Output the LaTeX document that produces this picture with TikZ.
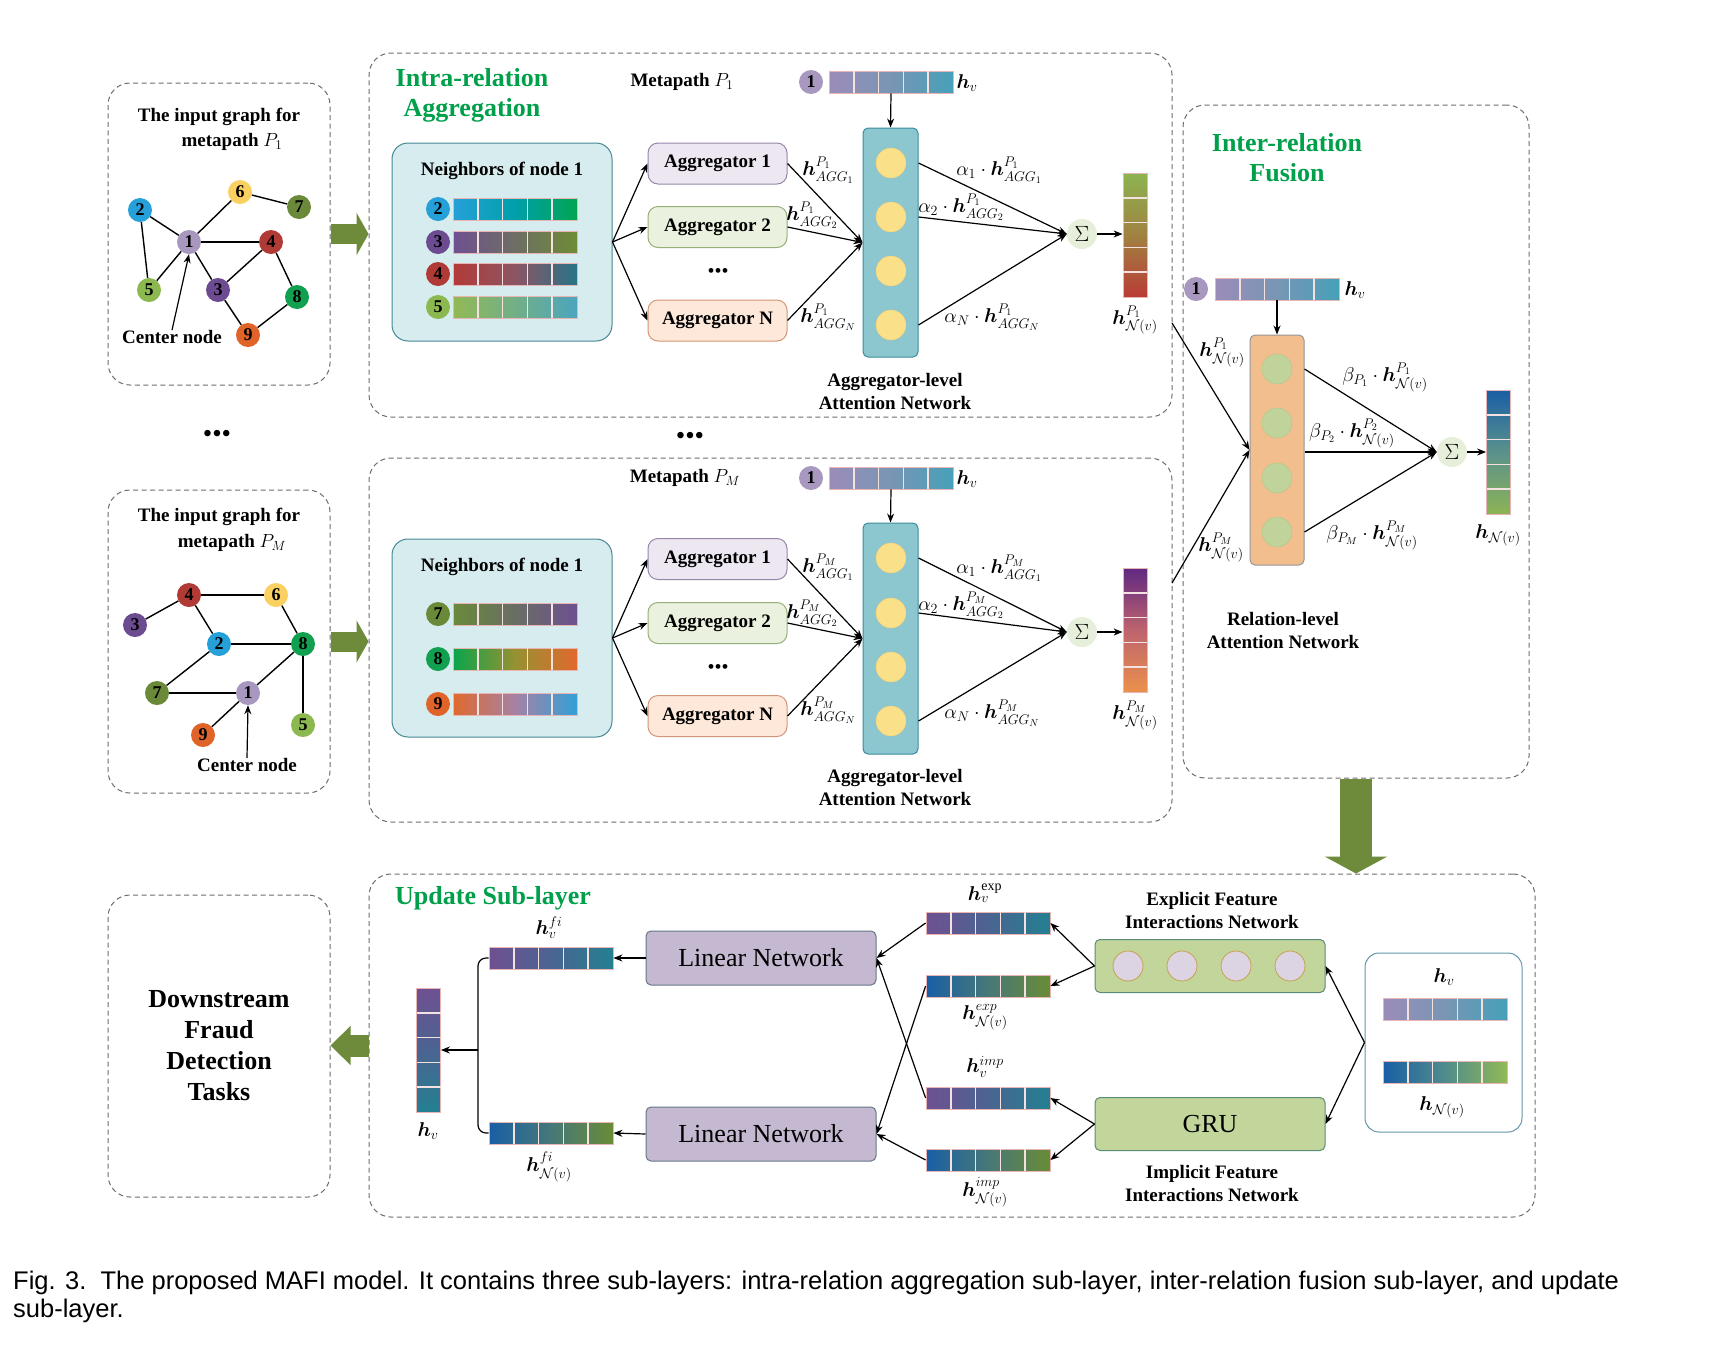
\RequirePackage{fix-cm}
\documentclass[tikz,border=0pt]{standalone}
\usepackage{amsmath}
\usepackage{bm}
\usepackage{fontspec}
\setmainfont{Liberation Serif}
\newfontfamily\capfont{Liberation Sans}
\usetikzlibrary{arrows.meta}

\definecolor{dashgray}{RGB}{110,110,110}
\definecolor{tgreen}{RGB}{0,160,75}
\definecolor{agreen}{RGB}{109,139,58}
\definecolor{nbfill}{RGB}{215,236,238}
\definecolor{nbdraw}{RGB}{70,135,150}
\definecolor{agAf}{RGB}{237,231,241}\definecolor{agAd}{RGB}{150,135,170}
\definecolor{agBf}{RGB}{234,241,222}\definecolor{agBd}{RGB}{150,175,120}
\definecolor{agNf}{RGB}{253,232,218}\definecolor{agNd}{RGB}{210,150,120}
\definecolor{attf}{RGB}{140,198,207}\definecolor{attd}{RGB}{60,140,155}
\definecolor{ycirc}{RGB}{251,224,138}\definecolor{ycircd}{RGB}{240,205,120}
\definecolor{sigf}{RGB}{230,239,218}
\definecolor{orf}{RGB}{242,190,142}\definecolor{ord}{RGB}{150,150,150}
\definecolor{gcirc}{RGB}{191,211,154}\definecolor{gcircd}{RGB}{175,200,135}
\definecolor{lnf}{RGB}{197,185,209}\definecolor{lnd}{RGB}{100,120,135}
\definecolor{expf}{RGB}{194,214,155}\definecolor{expd}{RGB}{90,140,120}
\definecolor{ecirc}{RGB}{220,211,227}\definecolor{ecircd}{RGB}{200,160,80}
\definecolor{inbd}{RGB}{100,150,170}
\definecolor{barpink}{RGB}{232,180,180}
% graph node colours
\definecolor{nA}{RGB}{168,152,192}
\definecolor{nB}{RGB}{38,160,216}
\definecolor{nC}{RGB}{108,75,145}
\definecolor{nD}{RGB}{176,58,53}
\definecolor{nE}{RGB}{140,184,80}
\definecolor{nF}{RGB}{250,208,96}
\definecolor{nG}{RGB}{106,138,58}
\definecolor{nH}{RGB}{16,160,80}
\definecolor{nI}{RGB}{224,100,42}
% bar colours
\definecolor{hvL}{RGB}{155,140,185}\definecolor{hvM}{RGB}{120,150,180}\definecolor{hvR}{RGB}{70,160,185}
\definecolor{rBL}{RGB}{38,160,216}\definecolor{rBM}{RGB}{0,160,170}\definecolor{rBR}{RGB}{0,165,80}
\definecolor{rCL}{RGB}{110,80,145}\definecolor{rCM}{RGB}{110,110,100}\definecolor{rCR}{RGB}{110,140,55}
\definecolor{rDL}{RGB}{180,58,55}\definecolor{rDM}{RGB}{140,85,100}\definecolor{rDR}{RGB}{40,115,135}
\definecolor{rEL}{RGB}{145,185,85}\definecolor{rEM}{RGB}{115,175,135}\definecolor{rER}{RGB}{75,165,190}
\definecolor{rGL}{RGB}{106,138,58}\definecolor{rGM}{RGB}{105,110,100}\definecolor{rGR}{RGB}{110,80,145}
\definecolor{rHL}{RGB}{10,165,75}\definecolor{rHM}{RGB}{150,145,50}\definecolor{rHR}{RGB}{225,105,45}
\definecolor{rIL}{RGB}{225,105,45}\definecolor{rIM}{RGB}{165,130,165}\definecolor{rIR}{RGB}{50,160,215}
\definecolor{vAT}{RGB}{140,180,80}\definecolor{vAM}{RGB}{160,130,65}\definecolor{vAB}{RGB}{185,60,55}
\definecolor{vBT}{RGB}{95,40,130}\definecolor{vBM}{RGB}{190,100,110}\definecolor{vBB}{RGB}{235,145,75}
\definecolor{vCT}{RGB}{25,95,165}\definecolor{vCM}{RGB}{90,145,140}\definecolor{vCB}{RGB}{140,180,85}
\definecolor{fvL}{RGB}{110,80,145}\definecolor{fvM}{RGB}{75,100,145}\definecolor{fvR}{RGB}{35,128,145}
\definecolor{fnL}{RGB}{25,95,165}\definecolor{fnM}{RGB}{70,120,120}\definecolor{fnR}{RGB}{105,140,55}
\definecolor{inL}{RGB}{25,95,165}\definecolor{inM}{RGB}{80,140,140}\definecolor{inR}{RGB}{145,185,85}

\newcommand{\hfeat}[6]{%
  \node[featbar, left color=#4, right color=#6, middle color=#5] (#1) at ({#2+62},{#3}) {};
  \foreach \ii in {1,2,3,4} {\draw[cellsep] ({#2+\ii*24.8},{#3-11}) -- ({#2+\ii*24.8},{#3+11});}
}
\newcommand{\vfeat}[6]{%
  \node[vfeatbar, top color=#4, bottom color=#6, middle color=#5] (#1) at ({#2},{#3+62}) {};
  \foreach \ii in {1,2,3,4} {\draw[cellsep] ({#2-12},{#3+\ii*24.8}) -- ({#2+12},{#3+\ii*24.8});}
}

\begin{document}
\begin{tikzpicture}[x=1pt,y=-1pt,
  every node/.style={font=\fontsize{19}{23}\selectfont},
  dbox/.style={draw=dashgray, dash pattern=on 5pt off 3.5pt, rounded corners=22pt, line width=1pt, inner sep=0pt},
  gnode/.style={circle, minimum size=24pt, inner sep=0pt, font=\bfseries\fontsize{18}{18}\selectfont},
  gedge/.style={line width=1.4pt},
  arr/.style={-{Stealth[length=9pt,width=7pt]}, line width=1.2pt},
  lab/.style={font=\bfseries\fontsize{19}{23}\selectfont, align=center, inner sep=0pt},
  mlab/.style={font=\fontsize{20}{24}\selectfont, inner sep=0pt},
  title/.style={font=\bfseries\fontsize{26}{30}\selectfont, text=tgreen, align=center, inner sep=0pt},
  agg/.style={rounded corners=10pt, minimum width=139pt, minimum height=41pt, inner sep=0pt, line width=1pt, font=\bfseries\fontsize{19}{23}\selectfont},
  nbox/.style={fill=nbfill, draw=nbdraw, line width=1pt, rounded corners=16pt, minimum width=220pt, minimum height=198pt},
  attbox/.style={fill=attf, draw=attd, line width=1pt, rounded corners=5pt, minimum width=55pt, inner sep=0pt},
  ycir/.style={circle, fill=ycirc, draw=ycircd, minimum size=30pt, inner sep=0pt},
  sig/.style={circle, fill=sigf, minimum size=30pt, inner sep=0pt, font=\fontsize{22}{22}\selectfont},
  featbar/.style={minimum width=124pt, minimum height=22pt, inner sep=0pt, draw=barpink, line width=0.8pt},
  vfeatbar/.style={minimum width=24pt, minimum height=124pt, inner sep=0pt, draw=barpink, line width=0.8pt},
  cellsep/.style={draw=white!60!barpink, line width=1.5pt},
  sidearr/.style={draw=agreen, line width=20pt, -{Triangle[length=12pt,width=42pt]}},
  downarr/.style={draw=agreen, line width=32pt, -{Triangle[length=17pt,width=62pt]}},
  leftarr/.style={draw=agreen, line width=22pt, -{Triangle[length=20pt,width=38pt]}},
  lnbox/.style={fill=lnf, draw=lnd, line width=1pt, rounded corners=5pt, minimum width=230pt, minimum height=54pt, font=\fontsize{26}{26}\selectfont},
  gbox/.style={fill=expf, draw=expd, line width=1pt, rounded corners=5pt, minimum width=230pt, minimum height=53pt, font=\fontsize{26}{26}\selectfont},
  ecir/.style={circle, fill=ecirc, draw=ecircd, line width=0.8pt, minimum size=30pt, inner sep=0pt},
  dots/.style={font=\fontsize{20}{20}\selectfont, inner sep=0pt},
  bigdots/.style={font=\fontsize{27}{27}\selectfont, inner sep=0pt}
]
\fill[white] (0,0) rectangle (1722,1350);
\useasboundingbox (0,0) rectangle (1722,1350);

% ---------------- dashed frames
\node[dbox, minimum width=222pt, minimum height=302pt] (g1box) at (219,234) {};
\node[dbox, minimum width=222pt, minimum height=303pt] (g2box) at (219,641.5) {};
\node[dbox, minimum width=803pt, minimum height=364pt] (intra1) at (770.5,235) {};
\node[dbox, minimum width=803pt, minimum height=364pt] (intra2) at (770.5,640) {};
\node[dbox, minimum width=346pt, minimum height=673pt] (inter) at (1356,441.5) {};
\node[dbox, minimum width=1166pt, minimum height=343pt] (update) at (952,1045.5) {};
\node[dbox, minimum width=222pt, minimum height=302pt] (down) at (219,1046) {};

% big green arrows
\draw[sidearr] (g1box.east) -- (intra1.west |- g1box.east);
\draw[sidearr] (g2box.east) -- (intra2.west |- g2box.east);
\draw[downarr] (inter.south) -- (inter.south |- update.north);
\draw[leftarr] (update.west) -- (down.east |- update.west);

% ---------------- graph 1
\node[lab] (g1t1) at (219,117) {The input graph for};
\node[lab] (g1t2) at (232,142) {metapath $P_{1}$};
\node[gnode, fill=nA] (a1) at (189,242) {1};
\node[gnode, fill=nB] (a2) at (140,210) {2};
\node[gnode, fill=nC] (a3) at (218,290) {3};
\node[gnode, fill=nD] (a4) at (271,242) {4};
\node[gnode, fill=nE] (a5) at (149,290) {5};
\node[gnode, fill=nF] (a6) at (240,192) {6};
\node[gnode, fill=nG] (a7) at (299,207) {7};
\node[gnode, fill=nH] (a8) at (297,297) {8};
\node[gnode, fill=nI] (a9) at (248,335) {9};
\foreach \u/\v in {a2/a1,a2/a5,a5/a1,a1/a6,a6/a7,a1/a4,a1/a3,a3/a4,a4/a8,a3/a9,a9/a8}
  \draw[gedge] (\u) -- (\v);
\node[lab] (cn1) at (172,337) {Center node};
\draw[arr] (cn1.north) -- (a1.south);

% ---------------- graph 2
\node[lab] (g2t1) at (219,517) {The input graph for};
\node[lab] (g2t2) at (232,543) {metapath $P_{M}$};
\node[gnode, fill=nA] (b1) at (248,693) {1};
\node[gnode, fill=nB] (b2) at (219,644) {2};
\node[gnode, fill=nC] (b3) at (135,625) {3};
\node[gnode, fill=nD] (b4) at (189,595) {4};
\node[gnode, fill=nE] (b5) at (303,725) {5};
\node[gnode, fill=nF] (b6) at (276,595) {6};
\node[gnode, fill=nG] (b7) at (157,693) {7};
\node[gnode, fill=nH] (b8) at (303,644) {8};
\node[gnode, fill=nI] (b9) at (203,735) {9};
\foreach \u/\v in {b3/b4,b4/b6,b4/b2,b6/b8,b2/b8,b2/b7,b7/b1,b1/b8,b8/b5,b1/b9}
  \draw[gedge] (\u) -- (\v);
\node[lab] (cn2) at (247,765) {Center node};
\draw[arr] (cn2.north) -- (b1.south);

\node[bigdots] (dl) at (217,436) {•••};
\node[bigdots] (dm) at (690,438) {•••};

% ---------------- intra-relation 1
\node[title] (tintra) at (472,95) {Intra-relation\\Aggregation};
\node[lab] (mp1) at (682,82) {Metapath $P_{1}$};
\node[nbox] (nbA) at (502,242) {};
\node[lab] (nbAt) at (502,171) {Neighbors of node 1};
\node[gnode, fill=nB] (rA2) at (438,209) {2}; \hfeat{rA2b}{453}{209}{rBL}{rBM}{rBR}
\node[gnode, fill=nC] (rA3) at (438,242) {3}; \hfeat{rA3b}{453}{242}{rCL}{rCM}{rCR}
\node[gnode, fill=nD] (rA4) at (438,274) {4}; \hfeat{rA4b}{453}{274}{rDL}{rDM}{rDR}
\node[gnode, fill=nE] (rA5) at (438,307) {5}; \hfeat{rA5b}{453}{307}{rEL}{rEM}{rER}
\node[agg, fill=agAf, draw=agAd] (agA1) at (717.5,163.5) {Aggregator 1};
\node[agg, fill=agBf, draw=agBd] (agA2) at (717.5,227) {Aggregator 2};
\node[agg, fill=agNf, draw=agNd] (agAN) at (717.5,320.5) {Aggregator N};
\node[dots] (dA) at (718,273) {•••};
\foreach \t in {agA1,agA2,agAN} \draw[arr] (nbA.east) -- (\t.west);
\node[gnode, fill=nA] (vA1) at (811,82) {1};
\hfeat{hvA}{829}{82}{hvL}{hvM}{hvR}
\node[mlab] (hvAl) at (967,83) {$\bm{h}_{v}$};
\node[attbox, minimum height=229pt] (attA) at (890.5,242.5) {};
\node[ycir] (yA1) at (891,163) {};
\node[ycir] (yA2) at (891,217) {};
\node[ycir] (yA3) at (891,271) {};
\node[ycir] (yA4) at (891,325) {};
\draw[arr] (hvA.south) -- (attA.north);
\foreach \t in {agA1,agA2,agAN} \draw[arr] (\t.east) -- (attA.west);
\node[sig] (sA) at (1082,234) {$\Sigma$};
\draw[arr] (attA.east |- yA1) -- (sA.west);
\draw[arr] (attA.east |- yA2) -- (sA.west);
\draw[arr] (attA.east |- yA4) -- (sA.west);
\vfeat{vbA}{1135}{173}{vAT}{vAM}{vAB}
\draw[arr] (sA.east) -- (vbA.west |- sA);
\node[mlab] (lA1) at (828,170) {$\bm{h}^{P_1}_{AGG_1}$};
\node[mlab] (lA2) at (812,215) {$\bm{h}^{P_1}_{AGG_2}$};
\node[mlab] (lA3) at (828,317) {$\bm{h}^{P_1}_{AGG_N}$};
\node[mlab] (lA4) at (999,170) {$\alpha_1\cdot\bm{h}^{P_1}_{AGG_1}$};
\node[mlab] (lA5) at (961,207) {$\alpha_2\cdot\bm{h}^{P_1}_{AGG_2}$};
\node[mlab] (lA6) at (992,317) {$\alpha_N\cdot\bm{h}^{P_1}_{AGG_N}$};
\node[mlab] (lA7) at (1135,320) {$\bm{h}^{P_1}_{\mathcal{N}(v)}$};
\node[lab] (anA) at (895,391) {Aggregator-level\\Attention Network};

% ---------------- intra-relation 2
\node[lab] (mp2) at (685,478) {Metapath $P_{M}$};
\node[nbox] (nbB) at (502,638) {};
\node[lab] (nbBt) at (502,567) {Neighbors of node 1};
\node[gnode, fill=nG] (rB7) at (438,614) {7}; \hfeat{rB7b}{453}{614}{rGL}{rGM}{rGR}
\node[gnode, fill=nH] (rB8) at (438,659) {8}; \hfeat{rB8b}{453}{659}{rHL}{rHM}{rHR}
\node[gnode, fill=nI] (rB9) at (438,704) {9}; \hfeat{rB9b}{453}{704}{rIL}{rIM}{rIR}
\node[agg, fill=agAf, draw=agAd] (agB1) at (717.5,559) {Aggregator 1};
\node[agg, fill=agBf, draw=agBd] (agB2) at (717.5,623) {Aggregator 2};
\node[agg, fill=agNf, draw=agNd] (agBN) at (717.5,716) {Aggregator N};
\node[dots] (dB) at (718,669) {•••};
\foreach \t in {agB1,agB2,agBN} \draw[arr] (nbB.east) -- (\t.west);
\node[gnode, fill=nA] (vB1) at (811,478) {1};
\hfeat{hvB}{829}{478}{hvL}{hvM}{hvR}
\node[mlab] (hvBl) at (967,479) {$\bm{h}_{v}$};
\node[attbox, minimum height=231pt] (attB) at (890.5,638.5) {};
\node[ycir] (yB1) at (891,558) {};
\node[ycir] (yB2) at (891,613) {};
\node[ycir] (yB3) at (891,667) {};
\node[ycir] (yB4) at (891,721) {};
\draw[arr] (hvB.south) -- (attB.north);
\foreach \t in {agB1,agB2,agBN} \draw[arr] (\t.east) -- (attB.west);
\node[sig] (sB) at (1082,632) {$\Sigma$};
\draw[arr] (attB.east |- yB1) -- (sB.west);
\draw[arr] (attB.east |- yB2) -- (sB.west);
\draw[arr] (attB.east |- yB4) -- (sB.west);
\vfeat{vbB}{1135}{568}{vBT}{vBM}{vBB}
\draw[arr] (sB.east) -- (vbB.west |- sB);
\node[mlab] (lB1) at (828,567) {$\bm{h}^{P_M}_{AGG_1}$};
\node[mlab] (lB2) at (812,613) {$\bm{h}^{P_M}_{AGG_2}$};
\node[mlab] (lB3) at (828,710) {$\bm{h}^{P_M}_{AGG_N}$};
\node[mlab] (lB4) at (999,568) {$\alpha_1\cdot\bm{h}^{P_M}_{AGG_1}$};
\node[mlab] (lB5) at (961,605) {$\alpha_2\cdot\bm{h}^{P_M}_{AGG_2}$};
\node[mlab] (lB6) at (992,713) {$\alpha_N\cdot\bm{h}^{P_M}_{AGG_N}$};
\node[mlab] (lB7) at (1135,715) {$\bm{h}^{P_M}_{\mathcal{N}(v)}$};
\node[lab] (anB) at (895,787) {Aggregator-level\\Attention Network};

% ---------------- inter-relation fusion
\node[title] (tinter) at (1287,158) {Inter-relation\\Fusion};
\node[gnode, fill=nA] (vC1) at (1196,289) {1};
\hfeat{hvC}{1215}{289}{hvL}{hvM}{hvR}
\node[mlab] (hvCl) at (1355,290) {$\bm{h}_{v}$};
\node[fill=orf, draw=ord, line width=1pt, rounded corners=5pt, minimum width=54pt, minimum height=230pt, inner sep=0pt] (orC) at (1277,450) {};
\node[circle, fill=gcirc, draw=gcircd, minimum size=30pt, inner sep=0pt] (gC1) at (1277,369) {};
\node[circle, fill=gcirc, draw=gcircd, minimum size=30pt, inner sep=0pt] (gC2) at (1277,423) {};
\node[circle, fill=gcirc, draw=gcircd, minimum size=30pt, inner sep=0pt] (gC3) at (1277,478) {};
\node[circle, fill=gcirc, draw=gcircd, minimum size=30pt, inner sep=0pt] (gC4) at (1277,532) {};
\draw[arr] (hvC.south) -- (orC.north);
\coordinate (oA) at (1172,323);
\coordinate (oB) at (1172,583);
\draw[arr] (oA) -- (orC.west);
\draw[arr] (oB) -- (orC.west);
\node[sig] (sC) at (1452,452) {$\Sigma$};
\draw[arr] (orC.east |- gC1) -- (sC.west);
\draw[arr] (orC.east |- sC) -- (sC.west);
\draw[arr] (orC.east |- gC4) -- (sC.west);
\vfeat{vbC}{1498.5}{390}{vCT}{vCM}{vCB}
\draw[arr] (sC.east) -- (vbC.west |- sC);
\node[mlab] (lC1) at (1222,352) {$\bm{h}^{P_1}_{\mathcal{N}(v)}$};
\node[mlab] (lC2) at (1221,547) {$\bm{h}^{P_M}_{\mathcal{N}(v)}$};
\node[mlab] (lC3) at (1385,377) {$\beta_{P_1}\cdot\bm{h}^{P_1}_{\mathcal{N}(v)}$};
\node[mlab] (lC4) at (1352,433) {$\beta_{P_2}\cdot\bm{h}^{P_2}_{\mathcal{N}(v)}$};
\node[mlab] (lC5) at (1372,535) {$\beta_{P_M}\cdot\bm{h}^{P_M}_{\mathcal{N}(v)}$};
\node[mlab] (lC6) at (1498,535) {$\bm{h}_{\mathcal{N}(v)}$};
\node[lab] (rlC) at (1283,630) {Relation-level\\Attention Network};

% ---------------- update sub-layer
\node[title, anchor=west] (tupd) at (395,898) {Update Sub-layer};
\node[lab, font=\bfseries\fontsize{26}{31}\selectfont] (downt) at (219,1046) {Downstream\\Fraud\\Detection\\Tasks};
\vfeat{hvU}{428.5}{988}{fvL}{fvM}{fvR}
\node[mlab] (hvUl) at (428,1131) {$\bm{h}_{v}$};
\hfeat{hfv}{489}{958}{fvL}{fvM}{fvR}
\hfeat{hfn}{489}{1133}{fnL}{fnM}{fnR}
\node[mlab] (hfvl) at (549,928) {$\bm{h}_{v}^{fi}$};
\node[mlab] (hfnl) at (549,1167) {$\bm{h}_{\mathcal{N}(v)}^{fi}$};
\coordinate (brk) at (478,1050);
\draw[line width=1.2pt, rounded corners=8pt] (hfv.west) -| (brk);
\draw[line width=1.2pt, rounded corners=8pt] (hfn.west) -| (brk);
\draw[arr] (brk) -- (hvU.east |- brk);
\node[lnbox] (ln1) at (761,958) {Linear Network};
\node[lnbox] (ln2) at (761,1134) {Linear Network};
\draw[arr] (ln1.west) -- (hfv.east);
\draw[arr] (ln2.west) -- (hfn.east);
\hfeat{hev}{926}{923}{fvL}{fvM}{fvR}
\hfeat{hen}{926}{986}{fnL}{fnM}{fnR}
\hfeat{hiv}{926}{1098}{fvL}{fvM}{fvR}
\hfeat{hin}{926}{1160}{fnL}{fnM}{fnR}
\node[mlab] (hevl) at (985,893) {$\bm{h}_{v}^{\mathrm{exp}}$};
\node[mlab] (henl) at (985,1017) {$\bm{h}_{\mathcal{N}(v)}^{exp}$};
\node[mlab] (hivl) at (985,1067) {$\bm{h}_{v}^{imp}$};
\node[mlab] (hinl) at (985,1192) {$\bm{h}_{\mathcal{N}(v)}^{imp}$};
\draw[arr] (hev.west) -- (ln1.east);
\draw[arr] (hiv.west) -- (ln1.east);
\draw[arr] (hen.west) -- (ln2.east);
\draw[arr] (hin.west) -- (ln2.east);
\node[gbox] (expb) at (1210,966) {};
\node[ecir] (ec1) at (1128,966) {};
\node[ecir] (ec2) at (1182,966) {};
\node[ecir] (ec3) at (1236,966) {};
\node[ecir] (ec4) at (1290,966) {};
\node[lab] (expt) at (1212,910) {Explicit Feature\\Interactions Network};
\node[gbox] (gru) at (1210,1124) {GRU};
\node[lab] (impt) at (1212,1183) {Implicit Feature\\Interactions Network};
\draw[arr] (expb.west) -- (hev.east);
\draw[arr] (expb.west) -- (hen.east);
\draw[arr] (gru.west) -- (hiv.east);
\draw[arr] (gru.west) -- (hin.east);
\node[draw=inbd, line width=1pt, fill=white, rounded corners=14pt, minimum width=157pt, minimum height=179pt] (inb) at (1443.5,1042.5) {};
\node[mlab] (inl1) at (1444,977) {$\bm{h}_{v}$};
\hfeat{inv}{1383}{1009}{hvL}{hvM}{hvR}
\hfeat{inn}{1383}{1072}{inL}{inM}{inR}
\node[mlab] (inl2) at (1442,1107) {$\bm{h}_{\mathcal{N}(v)}$};
\draw[arr] (inb.west) -- (expb.east);
\draw[arr] (inb.west) -- (gru.east);

% ---------------- caption
\node[anchor=base west, inner sep=0pt, font=\capfont\fontsize{25.5}{28}\selectfont] (cap1) at (13,1289) {Fig. 3.\ \ The proposed MAFI model. It contains three sub-layers: intra-relation aggregation sub-layer, inter-relation fusion sub-layer, and update};
\node[anchor=base west, inner sep=0pt, font=\capfont\fontsize{25.5}{28}\selectfont] (cap2) at (13,1317) {sub-layer.};
\end{tikzpicture}
\end{document}
